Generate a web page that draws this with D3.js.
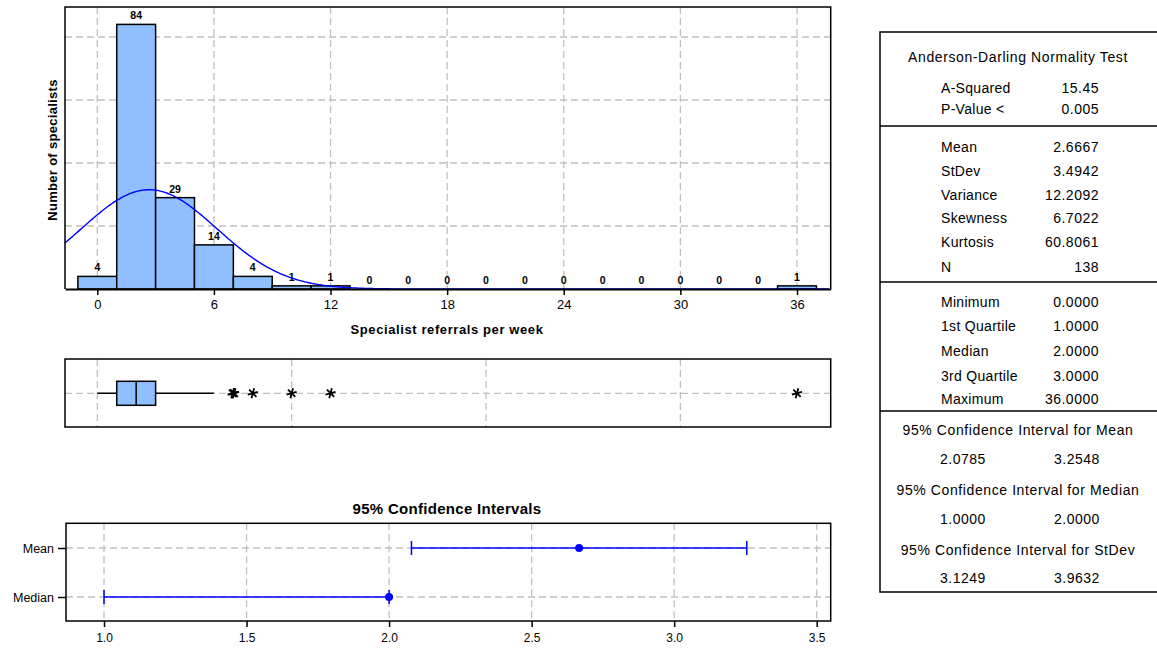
<!DOCTYPE html>
<html lang="en">
<head>
<meta charset="UTF-8">
<title>Graphical Summary - Specialist referrals</title>
<style>
  body { margin: 0; background: #fff; }
  text { font-family: "Liberation Sans", Arial, sans-serif; fill: #000; }
</style>
</head>
<body>
<div id="chart"></div>
<script src="https://d3js.org/d3.v7.min.js"></script>
<script>
// ---- data ----
var binCenters = [0, 2, 4, 6, 8, 10, 12, 14, 16, 18, 20, 22, 24, 26, 28, 30, 32, 34, 36];
var binCounts  = [4, 84, 29, 14, 4, 1, 1, 0, 0, 0, 0, 0, 0, 0, 0, 0, 0, 0, 1];
var binWidth = 2;
var xTicks = [0, 6, 12, 18, 24, 30, 36];
var yGrid = [20, 40, 60, 80];
var boxGrid = [0, 10, 20, 30];

var boxFive = [0, 1, 2, 3, 6];          // whisker low, Q1, median, Q3, whisker high
var outliers = [7, 7, 7, 8, 10, 12, 36];

var ciRows = ["Mean", "Median"];
var ciLow = [2.0785, 1.0];
var ciHigh = [3.2548, 2.0];
var ciPoint = [2.6667, 2.0];
var ciTicks = [1.0, 1.5, 2.0, 2.5, 3.0, 3.5];

var fitMean = 2.6667, fitSd = 3.4942, fitN = 138;

var adLabels = ["A-Squared", "P-Value <"];
var adValues = ["15.45", "0.005"];
var momLabels = ["Mean", "StDev", "Variance", "Skewness", "Kurtosis", "N"];
var momValues = ["2.6667", "3.4942", "12.2092", "6.7022", "60.8061", "138"];
var qLabels = ["Minimum", "1st Quartile", "Median", "3rd Quartile", "Maximum"];
var qValues = ["0.0000", "1.0000", "2.0000", "3.0000", "36.0000"];
var ciTitles = ["95% Confidence Interval for Mean", "95% Confidence Interval for Median", "95% Confidence Interval for StDev"];
var ciPairs = [["2.0785", "3.2548"], ["1.0000", "2.0000"], ["3.1249", "3.9632"]];

var W = 1157, H = 648;
var gridColor = "#c0c0c0", gridDash = "7,4";
var barFill = "#8fbfff";

var svg = d3.select("#chart").append("svg")
  .attr("width", W).attr("height", H);

// ---------- histogram ----------
var hL = 65, hR = 830.7, hT = 7, hB = 289;
var pxPerUnit = (797 - 97.3) / 36;
var x = d3.scaleLinear()
  .domain([(hL - 97.3) / pxPerUnit, (hR - 97.3) / pxPerUnit])
  .range([hL, hR]);
var y = d3.scaleLinear().domain([0, (hB - hT) / 3.15]).range([hB, hT]);

var hist = svg.append("g");

hist.selectAll(".vgrid").data(xTicks).enter().append("line")
  .attr("x1", d => x(d)).attr("x2", d => x(d))
  .attr("y1", hT).attr("y2", hB)
  .attr("stroke", gridColor).attr("stroke-width", 1.3).attr("stroke-dasharray", gridDash);
hist.selectAll(".hgrid").data(yGrid).enter().append("line")
  .attr("x1", hL).attr("x2", hR)
  .attr("y1", d => y(d)).attr("y2", d => y(d))
  .attr("stroke", gridColor).attr("stroke-width", 1.3).attr("stroke-dasharray", gridDash);

var bins = binCenters.map((c, i) => ({c: c, n: binCounts[i]}));
hist.selectAll(".bar").data(bins).enter().append("rect")
  .attr("x", d => x(d.c - binWidth / 2))
  .attr("width", d => x(d.c + binWidth / 2) - x(d.c - binWidth / 2))
  .attr("y", d => y(d.n))
  .attr("height", d => y(0) - y(d.n))
  .attr("fill", barFill).attr("stroke", "#000").attr("stroke-width", 1.5);

hist.selectAll(".cnt").data(bins).enter().append("text")
  .attr("x", d => x(d.c))
  .attr("y", d => y(d.n) - 5)
  .attr("text-anchor", "middle")
  .attr("font-size", 10.5).attr("font-weight", "bold")
  .text(d => d.n);

// fitted normal curve from the shown mean / stdev
var curveXs = d3.range(x.domain()[0], x.domain()[1], 0.1);
var dens = d3.line()
  .x(d => x(d))
  .y(d => y(fitN * binWidth * Math.exp(-0.5 * Math.pow((d - fitMean) / fitSd, 2)) / (fitSd * Math.sqrt(2 * Math.PI))));
hist.append("path").datum(curveXs)
  .attr("d", dens).attr("fill", "none")
  .attr("stroke", "#0000ff").attr("stroke-width", 1.4);

// frame
hist.append("path")
  .attr("d", "M" + hL + "," + hB + "V" + hT + "H" + hR + "V" + hB)
  .attr("fill", "none").attr("stroke", "#000").attr("stroke-width", 1.5);

var xAxis = hist.append("g")
  .attr("transform", "translate(0," + hB + ")")
  .call(d3.axisBottom(x).tickValues(xTicks).tickSize(6).tickPadding(5).tickSizeOuter(0));
xAxis.select(".domain").attr("stroke-width", 2);
xAxis.selectAll(".tick line").attr("stroke-width", 1.5);
xAxis.selectAll("text").attr("font-size", 13).attr("font-family", "Liberation Sans, Arial, sans-serif");

hist.append("text")
  .attr("x", 447).attr("y", 334)
  .attr("text-anchor", "middle").attr("font-size", 13).attr("font-weight", "bold")
  .attr("letter-spacing", 0.6)
  .text("Specialist referrals per week");
hist.append("text")
  .attr("transform", "translate(57,150) rotate(-90)")
  .attr("text-anchor", "middle").attr("font-size", 13).attr("font-weight", "bold")
  .attr("letter-spacing", 0.3)
  .text("Number of specialists");

// ---------- box plot ----------
var bT = 359, bB = 427, bMid = 393.3, boxH = 24;
var box = svg.append("g");
box.selectAll(".vg").data(boxGrid).enter().append("line")
  .attr("x1", d => x(d)).attr("x2", d => x(d))
  .attr("y1", bT).attr("y2", bB)
  .attr("stroke", gridColor).attr("stroke-width", 1.3).attr("stroke-dasharray", gridDash);
box.append("line")
  .attr("x1", hL).attr("x2", hR).attr("y1", bMid).attr("y2", bMid)
  .attr("stroke", gridColor).attr("stroke-width", 1.3).attr("stroke-dasharray", gridDash);

box.append("line")
  .attr("x1", x(boxFive[0])).attr("x2", x(boxFive[4]))
  .attr("y1", bMid).attr("y2", bMid)
  .attr("stroke", "#000").attr("stroke-width", 1.5);
box.append("rect")
  .attr("x", x(boxFive[1])).attr("width", x(boxFive[3]) - x(boxFive[1]))
  .attr("y", bMid - boxH / 2).attr("height", boxH)
  .attr("fill", barFill).attr("stroke", "#000").attr("stroke-width", 1.5);
box.append("line")
  .attr("x1", x(boxFive[2])).attr("x2", x(boxFive[2]))
  .attr("y1", bMid - boxH / 2).attr("y2", bMid + boxH / 2)
  .attr("stroke", "#000").attr("stroke-width", 1.5);

var star = d3.symbol().type(d3.symbolAsterisk).size(75);
box.selectAll(".out").data(outliers).enter().append("path")
  .attr("d", star)
  .attr("transform", (d, i) => "translate(" + (x(d) + (d === 7 ? (i - 1) * 0.8 : 0)) + "," + bMid + ") rotate(15)")
  .attr("fill", "none").attr("stroke", "#000").attr("stroke-width", 1.8);

box.append("rect")
  .attr("x", hL).attr("y", bT).attr("width", hR - hL).attr("height", bB - bT)
  .attr("fill", "none").attr("stroke", "#000").attr("stroke-width", 1.5);

// ---------- confidence intervals ----------
var cL = 66, cR = 830.7, cT = 523.3, cB = 621;
var xc = d3.scaleLinear()
  .domain([1.0 - (104 - cL) / 285, 3.5 + (cR - 816.7) / 285])
  .range([cL, cR]);
var yc = d3.scalePoint().domain(ciRows).range([548, 597]);

var ci = svg.append("g");
ci.append("text")
  .attr("x", 447).attr("y", 514)
  .attr("text-anchor", "middle").attr("font-size", 15).attr("font-weight", "bold")
  .attr("letter-spacing", 0.3)
  .text("95% Confidence Intervals");

ci.selectAll(".vg").data(ciTicks).enter().append("line")
  .attr("x1", d => xc(d)).attr("x2", d => xc(d))
  .attr("y1", cT).attr("y2", cB)
  .attr("stroke", gridColor).attr("stroke-width", 1.3).attr("stroke-dasharray", gridDash);
ci.selectAll(".hg").data(ciRows).enter().append("line")
  .attr("x1", cL).attr("x2", cR)
  .attr("y1", d => yc(d)).attr("y2", d => yc(d))
  .attr("stroke", gridColor).attr("stroke-width", 1.3).attr("stroke-dasharray", gridDash);

var rows = ciRows.map((r, i) => ({r: r, lo: ciLow[i], hi: ciHigh[i], p: ciPoint[i]}));
var rowG = ci.selectAll(".row").data(rows).enter().append("g");
rowG.append("line")
  .attr("x1", d => xc(d.lo)).attr("x2", d => xc(d.hi))
  .attr("y1", d => yc(d.r)).attr("y2", d => yc(d.r))
  .attr("stroke", "#0000ff").attr("stroke-width", 1.5);
rowG.append("line")
  .attr("x1", d => xc(d.lo)).attr("x2", d => xc(d.lo))
  .attr("y1", d => yc(d.r) - 7).attr("y2", d => yc(d.r) + 7)
  .attr("stroke", "#0000ff").attr("stroke-width", 1.5);
rowG.append("line")
  .attr("x1", d => xc(d.hi)).attr("x2", d => xc(d.hi))
  .attr("y1", d => yc(d.r) - 7).attr("y2", d => yc(d.r) + 7)
  .attr("stroke", "#0000ff").attr("stroke-width", 1.5);
rowG.append("circle")
  .attr("cx", d => xc(d.p)).attr("cy", d => yc(d.r)).attr("r", 4)
  .attr("fill", "#0000ff");

ci.append("rect")
  .attr("x", cL).attr("y", cT).attr("width", cR - cL).attr("height", cB - cT)
  .attr("fill", "none").attr("stroke", "#000").attr("stroke-width", 1.5);

var cxAxis = ci.append("g")
  .attr("transform", "translate(0," + cB + ")")
  .call(d3.axisBottom(xc).tickValues(ciTicks).tickFormat(d3.format(".1f")).tickSize(6).tickPadding(6).tickSizeOuter(0));
cxAxis.select(".domain").remove();
cxAxis.selectAll(".tick line").attr("stroke-width", 1.5);
cxAxis.selectAll("text").attr("font-size", 12).attr("font-family", "Liberation Sans, Arial, sans-serif");

var cyAxis = ci.append("g")
  .attr("transform", "translate(" + cL + ",0)")
  .call(d3.axisLeft(yc).tickSize(8).tickPadding(4));
cyAxis.select(".domain").remove();
cyAxis.selectAll(".tick line").attr("stroke-width", 1.5);
cyAxis.selectAll("text").attr("font-size", 12.5).attr("font-family", "Liberation Sans, Arial, sans-serif");

// ---------- summary table ----------
var tL = 880, tR = 1160, tT = 32, tB = 592;
var tbl = svg.append("g").attr("letter-spacing", 0.6);
tbl.append("path")
  .attr("d", "M" + tR + "," + tT + "H" + tL + "V" + tB + "H" + tR)
  .attr("fill", "none").attr("stroke", "#000").attr("stroke-width", 1.5);
[126, 282, 411].forEach(function (yy) {
  tbl.append("line").attr("x1", tL).attr("x2", tR).attr("y1", yy).attr("y2", yy)
    .attr("stroke", "#000").attr("stroke-width", 1.5);
});

var labX = 941, valX = 1099, midX = 1018, fs = 14;
tbl.append("text").attr("x", midX).attr("y", 62).attr("text-anchor", "middle")
  .attr("font-size", fs).text("Anderson-Darling Normality Test");

function rowsBlock(labels, values, ys) {
  labels.forEach(function (l, i) {
    tbl.append("text").attr("x", labX).attr("y", ys[i]).attr("font-size", fs)
      .attr("letter-spacing", 0.3).text(l);
    tbl.append("text").attr("x", valX).attr("y", ys[i]).attr("text-anchor", "end")
      .attr("font-size", fs).attr("letter-spacing", 0.5).text(values[i]);
  });
}
rowsBlock(adLabels, adValues, [93, 114]);
rowsBlock(momLabels, momValues, [152, 176, 200, 223, 247, 272]);
rowsBlock(qLabels, qValues, [307, 331, 356, 381, 404]);

var ciTitleY = [435, 495, 555], ciValY = [464, 524, 583];
ciTitles.forEach(function (t, i) {
  tbl.append("text").attr("x", midX).attr("y", ciTitleY[i]).attr("text-anchor", "middle")
    .attr("font-size", fs).text(t);
  tbl.append("text").attr("x", 963).attr("y", ciValY[i]).attr("text-anchor", "middle")
    .attr("font-size", fs).attr("letter-spacing", 0.5).text(ciPairs[i][0]);
  tbl.append("text").attr("x", 1077).attr("y", ciValY[i]).attr("text-anchor", "middle")
    .attr("font-size", fs).attr("letter-spacing", 0.5).text(ciPairs[i][1]);
});
</script>
</body>
</html>
